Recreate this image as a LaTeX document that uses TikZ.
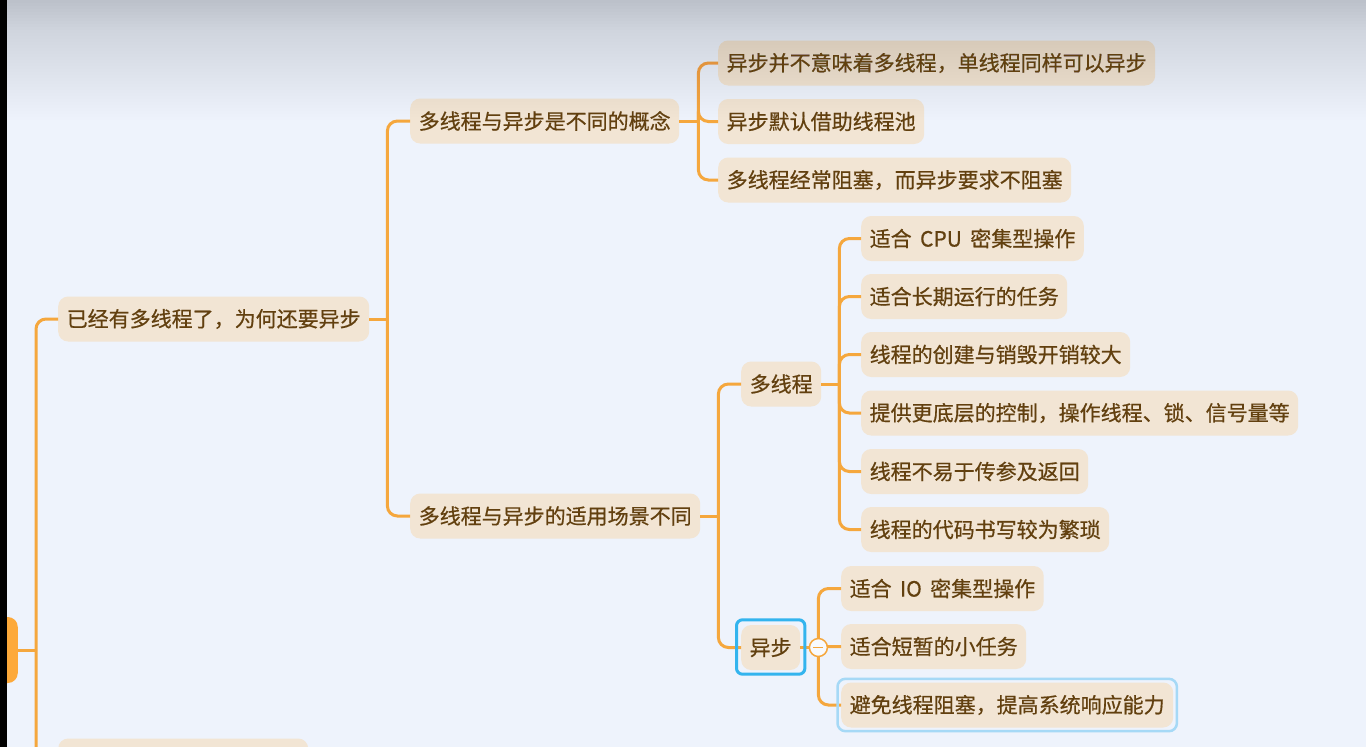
\documentclass[tikz,border=0pt]{standalone}
\usepackage{fontspec}
\setmainfont{Noto Sans CJK SC}[FakeBold=0.6]
\definecolor{bgc}{HTML}{EEF3FC}
\definecolor{nodefill}{HTML}{F2E5D4}
\definecolor{txt}{HTML}{62400F}
\definecolor{linec}{HTML}{F5A73D}
\definecolor{rootc}{HTML}{FDA93A}
\definecolor{selblue}{HTML}{33B4EE}
\definecolor{sellight}{HTML}{A6D9F6}
\definecolor{shadec}{HTML}{787A82}
\begin{document}
\begin{tikzpicture}[x=1pt,y=-1pt,
  topic/.style={fill=nodefill, text=txt, rounded corners=10pt, minimum height=45pt,
    inner xsep=8.5pt, inner ysep=0pt, font=\fontsize{21}{25}\selectfont, anchor=west},
  conn/.style={draw=linec, line width=3pt, rounded corners=10pt},
  selbox/.style={draw=selblue, line width=3pt, rounded corners=6pt},
  sellightbox/.style={draw=sellight, line width=2.5pt, rounded corners=8pt}]
\useasboundingbox (0,0) rectangle (1366,747);
\clip (0,0) rectangle (1366,747);
\fill[bgc] (0,0) rectangle (1366,747);

% nodes
\node[topic, fill=rootc, minimum width=80pt, minimum height=66pt, anchor=east] (root) at (18,650) {};
\node[topic] (A) at (58,319) {已经有多线程了，为何还要异步};
\node[topic, minimum width=250pt] (Z) at (58,761) {};
\node[topic] (B1) at (410,121) {多线程与异步是不同的概念};
\node[topic] (B2) at (410,516) {多线程与异步的适用场景不同};
\node[topic] (C1) at (718,63) {异步并不意味着多线程，单线程同样可以异步};
\node[topic] (C2) at (718,121.5) {异步默认借助线程池};
\node[topic] (C3) at (718,180) {多线程经常阻塞，而异步要求不阻塞};
\node[topic] (D1) at (741,384) {多线程};
\node[topic] (D2) at (741,647.5) {异步};
\node[topic] (E1) at (861,238.5) {适合\hspace{0.4em}CPU\hspace{0.4em}密集型操作};
\node[topic] (E2) at (861,296.5) {适合长期运行的任务};
\node[topic] (E3) at (861,354.5) {线程的创建与销毁开销较大};
\node[topic] (E4) at (861,413) {提供更底层的控制，操作线程、锁、信号量等};
\node[topic] (E5) at (861,471.5) {线程不易于传参及返回};
\node[topic] (E6) at (861,529.5) {线程的代码书写较为繁琐};
\node[topic] (F1) at (841,588.5) {适合\hspace{0.4em}IO\hspace{0.4em}密集型操作};
\node[topic] (F2) at (841,646.5) {适合短暂的小任务};
\node[topic] (F3) at (841,705) {避免线程阻塞，提高系统响应能力};

% connectors
\draw[conn] (root.east) -- ++(18,0) coordinate (rj);
\foreach \c in {A,Z} \draw[conn] (rj) |- (\c.west);
\draw[conn] (A.east) -- ++(18,0) coordinate (aj);
\foreach \c in {B1,B2} \draw[conn] (aj) |- (\c.west);
\draw[conn] (B1.east) -- ++(19,0) coordinate (b1j);
\foreach \c in {C1,C2,C3} \draw[conn] (b1j) |- (\c.west);
\draw[conn] (B2.east) -- ++(18,0) coordinate (b2j);
\foreach \c in {D1,D2} \draw[conn] (b2j) |- (\c.west);
\draw[conn] (D1.east) -- ++(18,0) coordinate (d1j);
\foreach \c in {E1,E2,E3,E4,E5,E6} \draw[conn] (d1j) |- (\c.west);
\draw[conn] (D2.east) -- ++(18,0) coordinate (d2j);
\foreach \c in {F1,F2,F3} \draw[conn] (d2j) |- (\c.west);

% collapse button
\node[circle, draw=linec, fill=white!60!bgc, line width=1.5pt, minimum size=18pt, inner sep=0pt] (cc) at (d2j) {};
\draw[linec, line width=1.5pt] ([xshift=-5pt]cc.center) -- ([xshift=5pt]cc.center);

% selection frames
\draw[selbox] ([shift={(-4.5,-5)}]D2.north west) rectangle ([shift={(4.5,4)}]D2.south east);
\draw[sellightbox] ([shift={(-3.5,-3.5)}]F3.north west) rectangle ([shift={(3.5,3.5)}]F3.south east);

% top shading
\foreach \k in {1,...,40} {
  \pgfmathsetmacro{\Tk}{0.29*(max(0,1-(\k-0.5)/40))^1.1}
  \pgfmathsetmacro{\Tn}{0.29*(max(0,1-(\k+0.5)/40))^1.1}
  \pgfmathsetmacro{\ak}{1-(1-\Tk)/(1-\Tn)}
  \fill[shadec, opacity=\ak] (0,0) rectangle (1366,{3*\k});
}
% left black strip
\fill[black] (0,0) rectangle (7,747);
\end{tikzpicture}
\end{document}
